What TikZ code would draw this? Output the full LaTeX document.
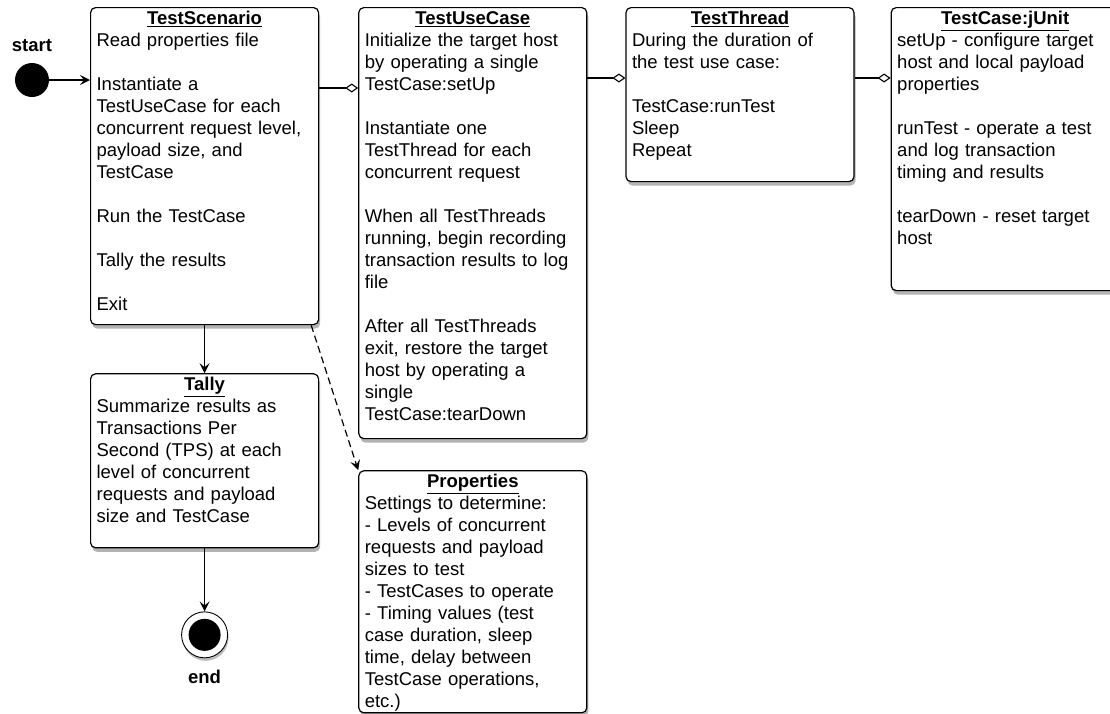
\documentclass[tikz,border=0pt]{standalone}
\usepackage{fontspec}
\setmainfont{Liberation Sans}
\usepackage{tikz}
\usetikzlibrary{positioning, shadows, arrows.meta}
\newcommand{\boxtitle}[1]{\makebox[\linewidth][c]{\underline{\textbf{#1}}}}
\newcommand{\gap}{\\[22pt]}

\begin{document}
\begin{tikzpicture}[
    x = 1pt, y = -1pt,
    font = \fontsize{18.5}{22}\selectfont,
    state/.style = {
      rectangle, draw, line width = 1.2pt, rounded corners = 5pt, fill = white,
      anchor = north west, align = left, text width = 216pt,
      inner xsep = 6pt, inner ysep = 4pt, text height = 13pt,
      drop shadow = {shadow xshift = 1.5pt, shadow yshift = -4pt, opacity = .6}
    },
    initial/.style = {
      circle, fill = black, inner sep = 0pt, minimum size = 34pt
    },
    final/.style = {
      circle, draw, line width = 0.9pt, fill = white, inner sep = 0pt,
      minimum size = 46pt,
      drop shadow = {shadow xshift = 1pt, shadow yshift = -3pt, opacity = .5}
    },
    caption/.style = {
      font = \fontsize{18.5}{22}\selectfont\bfseries, inner sep = 0pt
    },
    flow/.style = {
      -{Stealth[length = 10pt, width = 10pt, inset = 4pt]}, line width = 1.2pt
    },
    dep/.style = {
      flow, dash pattern = on 7pt off 4pt
    },
    agg/.style = {
      -{Diamond[open, length = 13pt, width = 9pt]}, line width = 1.1pt
    },
    ]
\useasboundingbox (0,0) rectangle (1110,713);

\node  [state, text depth = 296pt]  (scen)  at  (90,7)
  {\boxtitle{TestScenario}\\
   Read properties file\gap
   Instantiate a\\ TestUseCase for each\\ concurrent request level,\\
   payload size, and\\ TestCase\gap
   Run the TestCase\gap
   Tally the results\gap
   Exit};
\node  [state, text depth = 410pt]  (usecase)  [right = 39pt of scen.north east, anchor = north west]
  {\boxtitle{TestUseCase}\\
   Initialize the target host\\ by operating a single\\ TestCase:setUp\gap
   Instantiate one\\ TestThread for each\\ concurrent request\gap
   When all TestThreads\\ running, begin recording\\ transaction results to log\\ file\gap
   After all TestThreads\\ exit, restore the target\\ host by operating a\\ single\\
   TestCase:tearDown};
\node  [state, text depth = 153pt]  (thread)  [right = 38pt of usecase.north east, anchor = north west]
  {\boxtitle{TestThread}\\
   During the duration of\\ the test use case:\gap
   TestCase:runTest\\ Sleep\\ Repeat};
\node  [state, text depth = 262pt]  (junit)  [right = 36pt of thread.north east, anchor = north west]
  {\boxtitle{TestCase:jUnit}\\
   setUp - configure target\\ host and local payload\\ properties\gap
   runTest - operate a test\\ and log transaction\\ timing and results\gap
   tearDown - reset target\\ host};
\node  [state, text depth = 153pt]  (tally)  [below = 48pt of scen]
  {\boxtitle{Tally}\\
   Summarize results as\\ Transactions Per\\ Second (TPS) at each\\
   level of concurrent\\ requests and payload\\ size and TestCase};
\node  [state, text depth = 221pt]  (props)  [below = 31pt of usecase]
  {\boxtitle{Properties}\\
   Settings to determine:\\ - Levels of concurrent\\ requests and payload\\
   sizes to test\\ - TestCases to operate\\ - Timing values (test\\
   case duration, sleep\\ time, delay between\\ TestCase operations,\\ etc.)};

% start and end states
\node  [initial]  (start)  at  (32,80)  {};
\node  [caption]  (start_lbl)  [above = 11pt of start]  {start};
\node  [final]  (end)  [below = 63pt of tally]  {};
\fill  (end.center)  circle  [radius = 16pt];
\node  [caption]  (end_lbl)  [below = 12pt of end]  {end};

\draw  [flow]  (start)  --  (start -| scen.west);
\draw  [agg]  ([yshift = -81pt]scen.north east)  --  ([yshift = -81pt]usecase.north west);
\draw  [agg]  ([yshift = -71pt]usecase.north east)  --  ([yshift = -71pt]thread.north west);
\draw  [agg]  ([yshift = -71pt]thread.north east)  --  ([yshift = -71pt]junit.north west);
\draw  [flow]  (scen)  --  (tally);
\draw  [dep]  ([xshift = -8pt]scen.south east)  --  (props.north west);
\draw  [flow]  (tally)  --  (end);
\end{tikzpicture}
\end{document}
